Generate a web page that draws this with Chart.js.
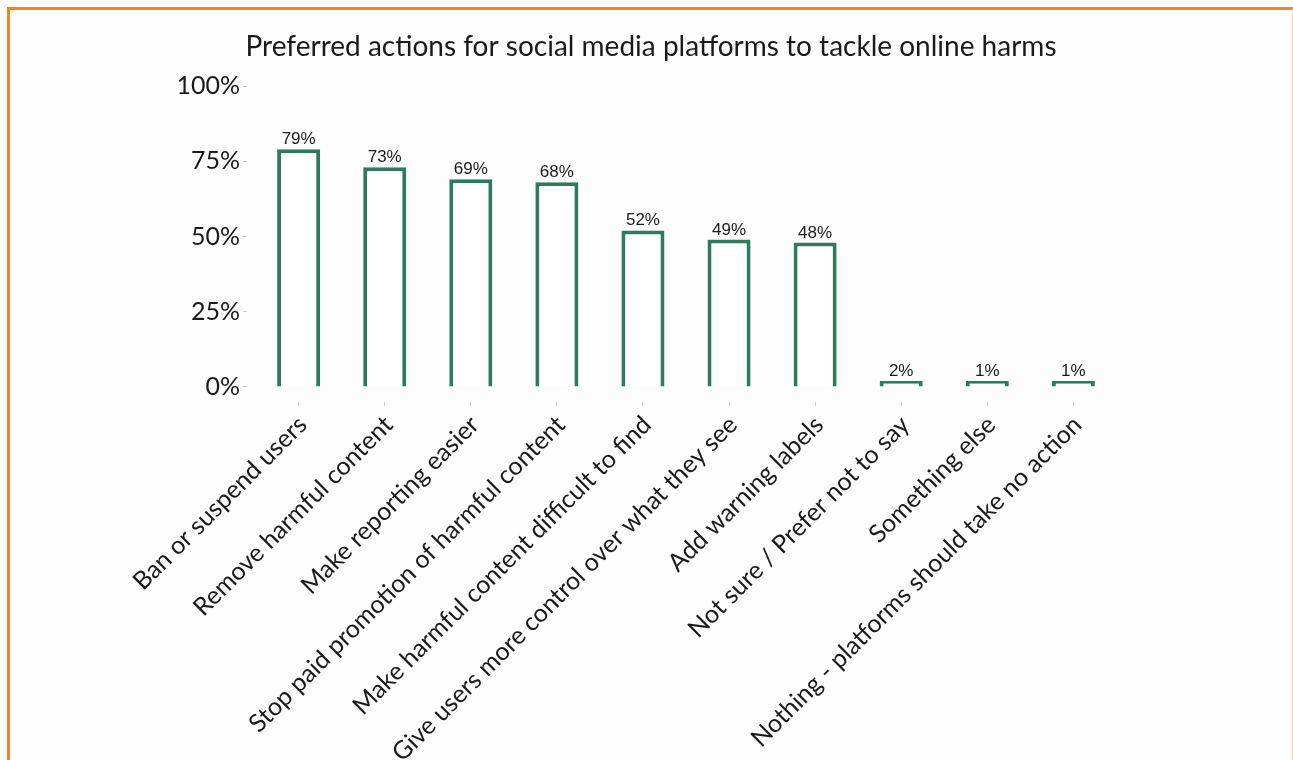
<!DOCTYPE html>
<html>
<head>
<meta charset="utf-8">
<script src="https://cdn.jsdelivr.net/npm/chart.js@4.4.1/dist/chart.umd.min.js"></script>
<style>
  html, body { margin: 0; padding: 0; background: #fdfdfd; overflow: hidden; }
  #wrap { position: relative; width: 1293px; height: 760px; }
  #frame {
    position: absolute; left: 7px; top: 7px; width: 1282px; height: 800px;
    border-left: 3px solid #f5811f; border-top: 3px solid #f5811f;
    border-right: 2px solid #fbd9bd;
  }
  canvas { position: absolute; left: 0; top: 0; }
</style>
</head>
<body>
<div id="wrap">
  <canvas id="chart" width="1293" height="760"></canvas>
  <div id="frame"></div>
</div>
<script>
const categories = [
  "Ban or suspend users",
  "Remove harmful content",
  "Make reporting easier",
  "Stop paid promotion of harmful content",
  "Make harmful content difficult to find",
  "Give users more control over what they see",
  "Add warning labels",
  "Not sure / Prefer not to say",
  "Something else",
  "Nothing - platforms should take no action"
];
const shares = [79, 73, 69, 68, 52, 49, 48, 2, 1, 1];
const yTicks = [0, 25, 50, 75, 100];

const barColor = "#2e7a5c";

// percentage labels above each bar
const valueLabels = {
  id: "valueLabels",
  afterDatasetsDraw(chart) {
    const ctx = chart.ctx;
    const meta = chart.getDatasetMeta(0);
    ctx.save();
    ctx.font = '17px "Liberation Sans", Arial, sans-serif';
    ctx.fillStyle = "#1a1a1a";
    ctx.textAlign = "center";
    ctx.textBaseline = "alphabetic";
    meta.data.forEach((bar, i) => {
      ctx.fillText(shares[i] + "%", bar.x, bar.y - 5);
    });
    ctx.restore();
  }
};

new Chart(document.getElementById("chart"), {
  type: "bar",
  data: {
    datasets: [{
      data: shares.map((v, i) => ({ x: i, y: v })),
      backgroundColor: "#ffffff",
      borderColor: barColor,
      borderWidth: 4,
      minBarLength: 6,
      barPercentage: 0.5,
      categoryPercentage: 1
    }]
  },
  options: {
    responsive: false,
    animation: false,
    layout: { padding: { left: 177, right: 168, top: 0, bottom: 0 } },
    plugins: {
      legend: { display: false },
      tooltip: { enabled: false },
      title: {
        display: true,
        text: "Preferred actions for social media platforms to tackle online harms",
        color: "#1a1a1a",
        font: { family: "Lato", size: 28, weight: "normal", lineHeight: 1.2 },
        padding: { top: 30, bottom: 7.4 }
      }
    },
    scales: {
      x: {
        type: "linear",
        offset: false,
        min: -0.6,
        max: 9.6,
        afterBuildTicks: (s) => { s.ticks = categories.map((c, i) => ({ value: i })); },
        afterFit: (s) => { s.height = 358; },
        border: { display: false },
        grid: { offset: false, drawOnChartArea: false, tickLength: 4, color: "#cccccc", lineWidth: 1 },
        ticks: {
          autoSkip: false,
          minRotation: 45,
          maxRotation: 45,
          padding: 4,
          labelOffset: 4,
          color: "#1a1a1a",
          font: { family: "Lato", size: 25 },
          callback: (v) => categories[v]
        }
      },
      y: {
        min: -5,
        max: 105,
        afterBuildTicks: (s) => { s.ticks = yTicks.map(v => ({ value: v })); },
        afterFit: (s) => { s.width = 70; },
        border: { display: false },
        grid: { drawOnChartArea: false, tickLength: 4, color: "#cccccc", lineWidth: 1 },
        ticks: {
          padding: 3,
          color: "#1a1a1a",
          font: { family: "Lato", size: 25 },
          callback: (v) => v + "%"
        }
      }
    }
  },
  plugins: [valueLabels]
});
</script>
</body>
</html>
